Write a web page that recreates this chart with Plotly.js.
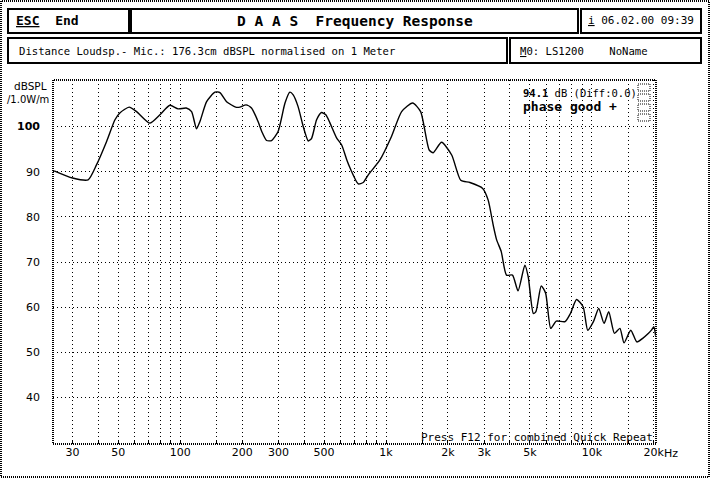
<!DOCTYPE html>
<html><head><meta charset="utf-8">
<script src="https://cdn.plot.ly/plotly-3.0.1.min.js"></script>
<style>html,body{margin:0;padding:0;background:#fff;}#chart{width:710px;height:478px;}</style>
</head><body><div id="chart"></div>
<script>
// Frequency response data
const freqHz = [24.4,30,35.7,39.2,43.9,48.2,50.9,56.5,61.4,71.2,79.7,89.1,97.8,107,113.6,120,124.7,134.4,147.5,156,168,186,195,209,222,239,249,263,278,299,323,341,354,374,396,419,435,460,486,510,534,575,609,645,669,733,775,820,934,1063,1191,1347,1473,1621,1696,1862,2085,2307,2556,2950,3136,3316,3447,3630,3848,4116,4380,4727,4908,5197,5350,5676,5964,6314,6718,7413,7869,8427,9073,9549,10180,10800,11470,12080,12880,13690,14330,15460,16540,17670,18850,19470,20000,20400];
const splDb = [90.2,88.6,88.2,91.5,96.7,101.5,103,104.3,103.3,100.75,102.6,104.7,103.9,104.1,103.3,99.5,101.1,105.5,107.6,107.5,105.5,104.3,104.3,104.8,104.1,101.1,98.9,96.9,96.9,98.9,105.2,107.6,107.0,104.4,100.0,96.8,97.4,101.5,103.1,102.6,100.8,97.5,95.9,92.6,90.8,87.3,87.6,89.3,92.6,97.8,103.3,105.2,103.3,94.8,94.2,96.5,93.7,88.1,87.6,86.3,83.7,78.2,74.9,72.3,67.1,67.1,63.6,69.3,66.7,58.6,59.0,64.7,63.1,55.3,56.9,56.8,58.6,61.7,60.1,54.9,56.8,59.7,56.4,59.0,54.2,55.3,52.1,54.9,52.3,53.1,54.2,54.9,55.7,53.7];

// Axis ticks / grid
const gridFreqs = [30,40,50,60,70,80,90,100,150,200,300,400,500,600,700,800,900,1000,1500,2000,3000,4000,5000,6000,7000,8000,9000,10000,15000,20000];
const gridLabels = ['30','','50','','','','','100','','200','300','','500','','','','','1k','','2k','3k','','5k','','','','','10k','','20k'];
const yTickVals = [40,50,60,70,80,90,100];
const yTickText = ['40','50','60','70','80','90','<b>100</b>'];

// Texts
const headerLeft = '<span style="text-decoration:underline">ESC</span>  End';
const headerTitle = 'D A A S  Frequency Response';
const headerDate = '<span style="text-decoration:underline">i</span> 06.02.00 09:39';
const infoLine = 'Distance Loudsp.- Mic.: 176.3cm dBSPL normalised on 1 Meter';
const modelLine = '<span style="text-decoration:underline">M</span>0: LS1200    NoName';
const yUnit1 = 'dBSPL', yUnit2 = '/1.0W/m';
const levelText = '<b>94.1</b> dB (Diff:0.0)';
const phaseText = '<b>phase good +</b>';
const footText = 'Press F12 for combined Quick Repeat';

// Layout geometry (pixels)
const L = 53, R = 656, T = 80, B = 444;
const px = x => (x - L) / (R - L);
const py = y => (B - y) / (B - T);
const MONO = 'DejaVu Sans Mono, Liberation Mono, monospace';
const SANS = 'DejaVu Sans, Liberation Sans, sans-serif';

function box(x0, y0, x1, y1, line) {
  return {type:'rect', xref:'paper', yref:'paper', x0:px(x0), x1:px(x1), y0:py(y1), y1:py(y0), line:line, fillcolor:'rgba(0,0,0,0)', layer:'above'};
}
function txt(text, x, y, size, anchor, family) {
  return {text:text, xref:'paper', yref:'paper', x:px(x), y:py(y), xanchor:anchor||'left', yanchor:'middle',
          showarrow:false, borderpad:0, font:{family:family||MONO, size:size, color:'#000'}};
}
const solid = {color:'#000', width:2};
const dotted = {color:'#000', width:2, dash:'1px,1px'};
const thinDot = {color:'#000', width:1, dash:'1px,1px'};

const shapes = [
  box(1, 1, 709, 477, dotted),
  box(8, 9, 129, 33, solid),
  box(131, 9, 578, 33, solid),
  box(581, 9, 701, 33, solid),
  box(8, 38, 507, 63, solid),
  box(510, 38, 701, 63, solid),
  box(L, T, R, B, dotted),
  box(638, 84, 650, 91, thinDot),
  box(638, 94, 650, 101, thinDot),
  box(638, 104, 650, 111, thinDot),
  box(638, 114, 650, 121, thinDot)
];

const annotations = [
  txt('<b>'+headerLeft+'</b>', 15, 21, 13),
  txt('<b>'+headerTitle+'</b>', 355, 21, 14.5, 'center'),
  txt(headerDate, 587, 21, 11),
  txt(infoLine, 18, 51, 10.6),
  txt(modelLine, 519, 51, 10.6),
  txt(yUnit1, 13, 86, 10.5, 'left', SANS),
  txt(yUnit2, 6, 99, 10, 'left', SANS),
  txt(levelText, 522, 93, 10.5),
  txt(phaseText, 522, 107, 13),
  txt(footText, 420, 437, 11),
  txt('Hz', 663, 454, 11, 'left', SANS)
];

const trace = {
  x: freqHz, y: splDb, type:'scatter', mode:'lines',
  line:{color:'#000', width:1.4, shape:'spline', smoothing:0.6},
  hoverinfo:'skip'
};

const layout = {
  width:710, height:478,
  margin:{l:L, r:710-R, t:T, b:478-B, pad:0},
  paper_bgcolor:'#fff', plot_bgcolor:'#fff',
  showlegend:false,
  xaxis:{type:'log', range:[Math.log10(24.1), Math.log10(20500)],
         tickmode:'array', tickvals:gridFreqs, ticktext:gridLabels,
         showgrid:true, gridcolor:'#000', gridwidth:1, griddash:'1px,3px',
         ticks:'inside', ticklen:3, tickcolor:'#000', tickwidth:1,
         showline:false, zeroline:false,
         tickfont:{family:SANS, size:11, color:'#000'}, fixedrange:true},
  yaxis:{range:[29.7,110.3], tickmode:'array', tickvals:yTickVals, ticktext:yTickText,
         showgrid:true, gridcolor:'#000', gridwidth:1, griddash:'1px,3px',
         ticks:'', showline:false, zeroline:false, ticklabelstandoff:12,
         tickfont:{family:SANS, size:11, color:'#000'}, fixedrange:true},
  shapes:shapes, annotations:annotations
};

Plotly.newPlot('chart', [trace], layout, {staticPlot:true, displayModeBar:false});
</script>
</body></html>
